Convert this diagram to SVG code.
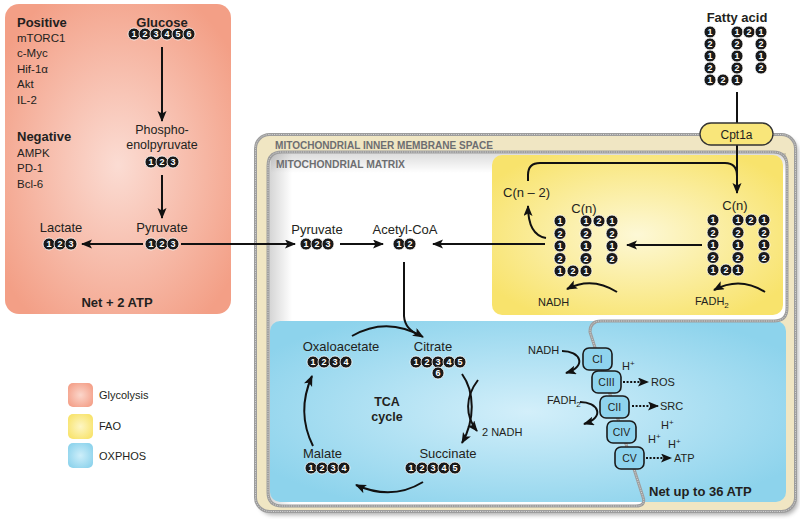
<svg xmlns="http://www.w3.org/2000/svg" width="800" height="519" viewBox="0 0 800 519">
<defs>
<style>
.t{font-family:"Liberation Sans",Arial,sans-serif;fill:#231f20}
.l{font-size:13px}
.s{font-size:11px}
.r{font-size:11.5px}
.b{font-weight:bold}
.m{text-anchor:middle}
.hd{font-family:"Liberation Sans",Arial,sans-serif;font-size:10px;font-weight:bold;fill:#6d6e71}
.ar{fill:none;stroke:#111;stroke-width:2;marker-end:url(#ah)}
.ln{fill:none;stroke:#111;stroke-width:2}
.dt{fill:none;stroke:#111;stroke-width:2;stroke-dasharray:2 1.6;marker-end:url(#ah2)}
.n circle{fill:#1a1a1a;stroke:#fff;stroke-width:0.8}
.n text{font-family:"Liberation Sans",Arial,sans-serif;font-size:9px;font-weight:bold;fill:#fff;text-anchor:middle}
.cx rect{fill:#8fd4ee;stroke:#1a1a1a;stroke-width:1.6}
.cx text{font-family:"Liberation Sans",Arial,sans-serif;font-size:10.5px;fill:#231f20;text-anchor:middle}
.mb{fill:none;stroke:#9d9d9d;stroke-width:3}
.mb2{fill:none;stroke:#d9d9d9;stroke-width:1;stroke-dasharray:1 1.3}
</style>
<marker id="ah" markerUnits="userSpaceOnUse" markerWidth="12" markerHeight="10" refX="10" refY="4.5" orient="auto">
<path d="M0,0 L11,4.5 L0,9 L2.5,4.5 Z" fill="#111"/>
</marker>
<marker id="ah2" markerUnits="userSpaceOnUse" markerWidth="12" markerHeight="10" refX="10" refY="4.5" orient="auto">
<path d="M0,0 L11,4.5 L0,9 L2.5,4.5 Z" fill="#111"/>
</marker>
<radialGradient id="gG" cx="0.5" cy="0.52" r="0.62">
<stop offset="0" stop-color="#fbdcd3"/><stop offset="1" stop-color="#f39f86"/>
</radialGradient>
<radialGradient id="gY" cx="0.5" cy="0.5" r="0.6">
<stop offset="0" stop-color="#fdf8d6"/><stop offset="1" stop-color="#f8e36c"/>
</radialGradient>
<radialGradient id="gB" cx="0.5" cy="0.5" r="0.6">
<stop offset="0" stop-color="#d3effa"/><stop offset="1" stop-color="#8dd3ec"/>
</radialGradient>
<radialGradient id="lG" cx="0.5" cy="0.5" r="0.6">
<stop offset="0" stop-color="#fbd6cb"/><stop offset="1" stop-color="#f4a089"/>
</radialGradient>
<radialGradient id="lY" cx="0.5" cy="0.5" r="0.6">
<stop offset="0" stop-color="#fdf6c4"/><stop offset="1" stop-color="#f8e36c"/>
</radialGradient>
<radialGradient id="lB" cx="0.5" cy="0.5" r="0.6">
<stop offset="0" stop-color="#cdeefa"/><stop offset="1" stop-color="#8dd3ec"/>
</radialGradient>
<linearGradient id="mxH" gradientUnits="userSpaceOnUse" x1="268" y1="0" x2="292" y2="0">
<stop offset="0" stop-color="#d2d2d2"/><stop offset="1" stop-color="#ffffff"/>
</linearGradient>
<linearGradient id="mxV" x1="0" y1="0" x2="0" y2="1">
<stop offset="0" stop-color="#000" stop-opacity="0.14"/><stop offset="1" stop-color="#000" stop-opacity="0"/>
</linearGradient>
<filter id="sh" x="-5%" y="-5%" width="110%" height="110%"><feGaussianBlur stdDeviation="2"/></filter>
</defs>

<!-- Glycolysis box -->
<g id="glycolysis-box">
<rect x="5" y="4" width="226" height="310" rx="14" fill="url(#gG)"/>
</g>

<!-- Mitochondrion -->
<g id="mitochondrion">
<rect x="259" y="138" width="539" height="377" rx="14" fill="#6f6f6f" opacity="0.55" filter="url(#sh)"/>
<rect x="255.5" y="134.5" width="540" height="377" rx="14" fill="#f0e6c3"/>
<path id="matrix-shape" d="M268,166 Q268,152 282,152 L773,152 Q787,152 787,166 L787,308 Q787,321 774,321 L601,321 Q590,321 590,332 L643,497 Q646,506 636,506 L282,506 Q268,506 268,492 Z" fill="url(#mxH)"/>
<rect x="271" y="153" width="515" height="20" fill="url(#mxV)"/>
<rect x="270" y="321" width="516" height="181" rx="10" fill="url(#gB)"/>
<rect x="492" y="155" width="291" height="160" rx="10" fill="url(#gY)"/>
<rect x="255.5" y="134.5" width="540" height="377" rx="14" class="mb"/>
<rect x="255.5" y="134.5" width="540" height="377" rx="14" class="mb2"/>
<path d="M268,166 Q268,152 282,152 L773,152 Q787,152 787,166 L787,308 Q787,321 774,321 L601,321 Q590,321 590,332 L643,497 Q646,506 636,506 L282,506 Q268,506 268,492 Z" class="mb"/>
<path d="M268,166 Q268,152 282,152 L773,152 Q787,152 787,166 L787,308 Q787,321 774,321 L601,321 Q590,321 590,332 L643,497 Q646,506 636,506 L282,506 Q268,506 268,492 Z" class="mb2"/>
<text class="hd" x="275" y="149" textLength="218" lengthAdjust="spacingAndGlyphs">MITOCHONDRIAL INNER MEMBRANE SPACE</text>
<text class="hd" x="276" y="168" textLength="129" lengthAdjust="spacingAndGlyphs">MITOCHONDRIAL MATRIX</text>
</g>

<!-- Connectors -->
<g id="connectors">
<path class="ar" d="M162,47 V121"/>
<path class="ar" d="M162,175 V218"/>
<path class="ar" d="M143,244 H82"/>
<path class="ar" d="M181,244 H295"/>
<path class="ar" d="M340,244 H383"/>
<path class="ar" d="M545,244 H433"/>
<path class="ln" d="M737,92 V123"/>
<path class="ar" d="M737,145 V193"/>
<path class="ln" d="M528,181 V175 Q528,163 540,163 L725,163 Q737,163 737,176"/>
<path class="ar" d="M546,238 C534,236 528,226 528,206"/>
<path class="ar" d="M702,245 H627"/>
<path class="ar" d="M617,292 Q592,276 567,289"/>
<path class="ar" d="M765,292 Q740,276 714,290"/>
<path class="ln" d="M404,262 V316 Q405,330 420,335"/>
<path class="ar" d="M352,336 Q387,316 423,337"/>
<path class="ar" d="M462,374 C475,392 475,420 462,443"/>
<path class="ar" d="M478,380 C465,397 465,416 477,431"/>
<path class="ar" d="M423,482 Q392,501 356,485"/>
<path class="ar" d="M313,446 Q296,412 312,376"/>
<path class="ar" d="M562,351 C580,351 588,366 566,373"/>
<path class="ar" d="M580,402 C598,402 606,417 584,424"/>
<path class="dt" d="M623,382 H648"/>
<path class="dt" d="M632,406 H658"/>
<path class="dt" d="M646,458 H671"/>
</g>

<!-- Regulators -->
<g id="regulators">
<text class="t l b" x="17" y="27">Positive</text>
<text class="t r" x="17" y="42">mTORC1</text>
<text class="t r" x="17" y="57">c-Myc</text>
<text class="t r" x="17" y="73">Hif-1α</text>
<text class="t r" x="17" y="88">Akt</text>
<text class="t r" x="17" y="104">IL-2</text>
<text class="t l b" x="17" y="141">Negative</text>
<text class="t r" x="17" y="157">AMPK</text>
<text class="t r" x="17" y="172">PD-1</text>
<text class="t r" x="17" y="188">Bcl-6</text>
</g>

<g id="glucose">
<text class="t l b m" x="162" y="27">Glucose</text>
<g class="n">
<circle cx="134" cy="34" r="6"/><text x="134" y="37.2">1</text>
<circle cx="145" cy="34" r="6"/><text x="145" y="37.2">2</text>
<circle cx="156" cy="34" r="6"/><text x="156" y="37.2">3</text>
<circle cx="167" cy="34" r="6"/><text x="167" y="37.2">4</text>
<circle cx="178" cy="34" r="6"/><text x="178" y="37.2">5</text>
<circle cx="189" cy="34" r="6"/><text x="189" y="37.2">6</text>
</g>
</g>

<g id="pep">
<text class="t m" font-size="12.5" x="162" y="134">Phospho-</text>
<text class="t m" font-size="12.5" x="162" y="149">enolpyruvate</text>
<g class="n">
<circle cx="151" cy="162" r="6"/><text x="151" y="165.2">1</text>
<circle cx="162" cy="162" r="6"/><text x="162" y="165.2">2</text>
<circle cx="173" cy="162" r="6"/><text x="173" y="165.2">3</text>
</g>
</g>

<g id="pyruvate-glyc">
<text class="t l m" x="162" y="232">Pyruvate</text>
<g class="n">
<circle cx="151" cy="244" r="6"/><text x="151" y="247.2">1</text>
<circle cx="162" cy="244" r="6"/><text x="162" y="247.2">2</text>
<circle cx="173" cy="244" r="6"/><text x="173" y="247.2">3</text>
</g>
</g>

<g id="lactate">
<text class="t l m" x="61" y="232">Lactate</text>
<g class="n">
<circle cx="49" cy="244" r="6"/><text x="49" y="247.2">1</text>
<circle cx="60" cy="244" r="6"/><text x="60" y="247.2">2</text>
<circle cx="71" cy="244" r="6"/><text x="71" y="247.2">3</text>
</g>
</g>

<g id="net-glycolysis"><text class="t l b m" x="117" y="307">Net + 2 ATP</text></g>

<!-- Legend -->
<g id="legend">
<rect x="68" y="383" width="25" height="24" rx="5" fill="url(#lG)"/>
<rect x="68" y="414" width="25" height="25" rx="5" fill="url(#lY)"/>
<rect x="68" y="443" width="25" height="25" rx="5" fill="url(#lB)"/>
<text class="t s" x="99" y="399">Glycolysis</text>
<text class="t s" x="99" y="430">FAO</text>
<text class="t s" x="99" y="460">OXPHOS</text>
</g>

<g id="pyruvate-matrix">
<text class="t l m" x="317" y="234">Pyruvate</text>
<g class="n">
<circle cx="306" cy="244" r="6"/><text x="306" y="247.2">1</text>
<circle cx="317" cy="244" r="6"/><text x="317" y="247.2">2</text>
<circle cx="328" cy="244" r="6"/><text x="328" y="247.2">3</text>
</g>
</g>

<g id="acetyl-coa">
<text class="t l m" x="405" y="234">Acetyl-CoA</text>
<g class="n">
<circle cx="399" cy="244" r="6"/><text x="399" y="247.2">1</text>
<circle cx="410" cy="244" r="6"/><text x="410" y="247.2">2</text>
</g>
</g>

<!-- Fatty acid -->
<g id="fatty-acid">
<text class="t l b m" x="737" y="22">Fatty acid</text>
<g class="n">
<circle cx="710" cy="32" r="6"/><text x="710" y="35.2">1</text>
<circle cx="710" cy="44" r="6"/><text x="710" y="47.2">2</text>
<circle cx="710" cy="56" r="6"/><text x="710" y="59.2">1</text>
<circle cx="710" cy="68" r="6"/><text x="710" y="71.2">2</text>
<circle cx="710" cy="80" r="6"/><text x="710" y="83.2">1</text>
<circle cx="723" cy="80" r="6"/><text x="723" y="83.2">2</text>
<circle cx="737" cy="80" r="6"/><text x="737" y="83.2">1</text>
<circle cx="737" cy="68" r="6"/><text x="737" y="71.2">2</text>
<circle cx="737" cy="56" r="6"/><text x="737" y="59.2">1</text>
<circle cx="737" cy="44" r="6"/><text x="737" y="47.2">2</text>
<circle cx="737" cy="32" r="6"/><text x="737" y="35.2">1</text>
<circle cx="749" cy="32" r="6"/><text x="749" y="35.2">2</text>
<circle cx="761" cy="32" r="6"/><text x="761" y="35.2">1</text>
<circle cx="761" cy="44" r="6"/><text x="761" y="47.2">2</text>
<circle cx="761" cy="56" r="6"/><text x="761" y="59.2">1</text>
<circle cx="761" cy="68" r="6"/><text x="761" y="71.2">2</text>
</g>
</g>

<g id="cpt1a">
<rect x="700" y="123" width="73" height="22" rx="11" fill="#f9e67a" stroke="#333" stroke-width="1.3"/>
<text class="t m" x="736.5" y="138.5" font-size="12">Cpt1a</text>
</g>

<!-- FAO -->
<g id="fao-cn-right">
<text class="t l m" x="735" y="210">C(n)</text>
<g class="n">
<circle cx="713" cy="220" r="6"/><text x="713" y="223.2">1</text>
<circle cx="713" cy="232.5" r="6"/><text x="713" y="235.7">2</text>
<circle cx="713" cy="245" r="6"/><text x="713" y="248.2">1</text>
<circle cx="713" cy="257.5" r="6"/><text x="713" y="260.7">2</text>
<circle cx="713" cy="270" r="6"/><text x="713" y="273.2">1</text>
<circle cx="726" cy="270" r="6"/><text x="726" y="273.2">2</text>
<circle cx="738" cy="270" r="6"/><text x="738" y="273.2">1</text>
<circle cx="738" cy="257.5" r="6"/><text x="738" y="260.7">2</text>
<circle cx="738" cy="245" r="6"/><text x="738" y="248.2">1</text>
<circle cx="738" cy="232.5" r="6"/><text x="738" y="235.7">2</text>
<circle cx="738" cy="220" r="6"/><text x="738" y="223.2">1</text>
<circle cx="751" cy="220" r="6"/><text x="751" y="223.2">2</text>
<circle cx="764" cy="220" r="6"/><text x="764" y="223.2">1</text>
<circle cx="764" cy="232.5" r="6"/><text x="764" y="235.7">2</text>
<circle cx="764" cy="245" r="6"/><text x="764" y="248.2">1</text>
<circle cx="764" cy="257.5" r="6"/><text x="764" y="260.7">2</text>
</g>
</g>

<g id="fao-cn-left">
<text class="t l m" x="584" y="213">C(n)</text>
<g class="n">
<circle cx="560" cy="221" r="6"/><text x="560" y="224.2">1</text>
<circle cx="560" cy="233.5" r="6"/><text x="560" y="236.7">2</text>
<circle cx="560" cy="246" r="6"/><text x="560" y="249.2">1</text>
<circle cx="560" cy="258.5" r="6"/><text x="560" y="261.7">2</text>
<circle cx="560" cy="271" r="6"/><text x="560" y="274.2">1</text>
<circle cx="573" cy="271" r="6"/><text x="573" y="274.2">2</text>
<circle cx="586" cy="271" r="6"/><text x="586" y="274.2">1</text>
<circle cx="586" cy="258.5" r="6"/><text x="586" y="261.7">2</text>
<circle cx="586" cy="246" r="6"/><text x="586" y="249.2">1</text>
<circle cx="586" cy="233.5" r="6"/><text x="586" y="236.7">2</text>
<circle cx="586" cy="221" r="6"/><text x="586" y="224.2">1</text>
<circle cx="599" cy="221" r="6"/><text x="599" y="224.2">2</text>
<circle cx="612" cy="221" r="6"/><text x="612" y="224.2">1</text>
<circle cx="612" cy="233.5" r="6"/><text x="612" y="236.7">2</text>
<circle cx="612" cy="246" r="6"/><text x="612" y="249.2">1</text>
<circle cx="612" cy="258.5" r="6"/><text x="612" y="261.7">2</text>
</g>
</g>

<g id="fao-cn2"><text class="t l" x="503" y="197">C(n – 2)</text></g>
<g id="fao-nadh"><text class="t s" x="538" y="306">NADH</text></g>
<g id="fao-fadh2"><text class="t s" x="695" y="305">FADH<tspan font-size="8" dy="3">2</tspan></text></g>

<!-- TCA -->
<g id="oxaloacetate">
<text class="t l m" x="341" y="351">Oxaloacetate</text>
<g class="n">
<circle cx="313" cy="362" r="6"/><text x="313" y="365.2">1</text>
<circle cx="324" cy="362" r="6"/><text x="324" y="365.2">2</text>
<circle cx="335" cy="362" r="6"/><text x="335" y="365.2">3</text>
<circle cx="346" cy="362" r="6"/><text x="346" y="365.2">4</text>
</g>
</g>

<g id="citrate">
<text class="t l m" x="433" y="351">Citrate</text>
<g class="n">
<circle cx="416" cy="362" r="6"/><text x="416" y="365.2">1</text>
<circle cx="427" cy="362" r="6"/><text x="427" y="365.2">2</text>
<circle cx="438" cy="362" r="6"/><text x="438" y="365.2">3</text>
<circle cx="449" cy="362" r="6"/><text x="449" y="365.2">4</text>
<circle cx="460" cy="362" r="6"/><text x="460" y="365.2">5</text>
<circle cx="438" cy="373" r="6"/><text x="438" y="376.2">6</text>
</g>
</g>

<g id="malate">
<text class="t l" x="303" y="458">Malate</text>
<g class="n">
<circle cx="311" cy="468" r="6"/><text x="311" y="471.2">1</text>
<circle cx="322" cy="468" r="6"/><text x="322" y="471.2">2</text>
<circle cx="333" cy="468" r="6"/><text x="333" y="471.2">3</text>
<circle cx="344" cy="468" r="6"/><text x="344" y="471.2">4</text>
</g>
</g>

<g id="succinate">
<text class="t l m" x="448" y="458">Succinate</text>
<g class="n">
<circle cx="411" cy="468" r="6"/><text x="411" y="471.2">1</text>
<circle cx="422" cy="468" r="6"/><text x="422" y="471.2">2</text>
<circle cx="433" cy="468" r="6"/><text x="433" y="471.2">3</text>
<circle cx="444" cy="468" r="6"/><text x="444" y="471.2">4</text>
<circle cx="455" cy="468" r="6"/><text x="455" y="471.2">5</text>
</g>
</g>

<g id="tca-label">
<text class="t b m" font-size="12.5" x="387" y="406">TCA</text>
<text class="t b m" font-size="12.5" x="387" y="421">cycle</text>
</g>
<g id="tca-nadh"><text class="t s" x="482" y="436">2 NADH</text></g>

<!-- OXPHOS -->
<g id="oxphos-inputs">
<text class="t s" x="528" y="354">NADH</text>
<text class="t s" x="547" y="404">FADH<tspan font-size="8" dy="3">2</tspan></text>
</g>
<g id="complex-ci" class="cx"><rect x="583" y="348" width="29" height="22" rx="6"/><text x="597.5" y="363">CI</text></g>
<g id="complex-ciii" class="cx"><rect x="592" y="371" width="29" height="22" rx="6"/><text x="606.5" y="386">CIII</text></g>
<g id="complex-cii" class="cx"><rect x="600" y="396" width="29" height="22" rx="6"/><text x="614.5" y="411">CII</text></g>
<g id="complex-civ" class="cx"><rect x="607" y="421" width="29" height="22" rx="6"/><text x="621.5" y="436">CIV</text></g>
<g id="complex-cv" class="cx"><rect x="615" y="447" width="29" height="22" rx="6"/><text x="629.5" y="462">CV</text></g>
<g id="protons">
<text class="t s" x="622" y="370">H<tspan font-size="8" dy="-4">+</tspan></text>
<text class="t s" x="661" y="429">H<tspan font-size="8" dy="-4">+</tspan></text>
<text class="t s" x="648" y="443">H<tspan font-size="8" dy="-4">+</tspan></text>
<text class="t s" x="668" y="448">H<tspan font-size="8" dy="-4">+</tspan></text>
</g>
<g id="oxphos-outputs">
<text class="t s" x="651" y="386">ROS</text>
<text class="t s" x="660" y="410">SRC</text>
<text class="t s" x="674" y="462">ATP</text>
</g>
<g id="net-oxphos"><text class="t l b" x="649" y="496">Net up to 36 ATP</text></g>
</svg>
